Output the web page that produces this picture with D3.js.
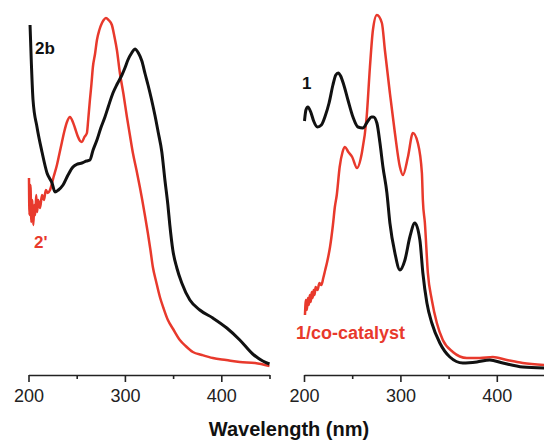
<!DOCTYPE html>
<html>
<head>
<meta charset="utf-8">
<title>UV-vis spectra</title>
<script src="https://d3js.org/d3.v7.min.js"></script>
<style>
body { margin: 0; background: #fff; }
svg { display: block; font-family: "Liberation Sans", Arial, sans-serif; }
</style>
</head>
<body>
<script type="text/javascript">

// wavelength (nm) and absorbance (arb. units)
var wl2b = [201.6, 203, 204.7, 208.8, 214, 219.2, 224.4, 227.5, 231, 235.8, 241, 246.1, 251, 255.4, 260, 263.7, 267, 271, 275, 279.3, 283, 287.6, 292, 296.9, 300, 303.1, 307, 310.4, 314, 317.6, 321, 324, 327.5, 331.1, 334.5, 338.3, 341.5, 344.6, 346.6, 349.7, 353.9, 359, 367.4, 377.7, 391.2, 405.7, 419.2, 432.6, 443, 450];
var abs2b = [3.49, 3.10, 2.74, 2.47, 2.22, 2.01, 1.91, 1.82, 1.84, 1.89, 1.99, 2.07, 2.10, 2.11, 2.13, 2.14, 2.24, 2.34, 2.46, 2.57, 2.68, 2.81, 2.90, 2.99, 3.06, 3.14, 3.21, 3.25, 3.21, 3.13, 3.00, 2.89, 2.75, 2.59, 2.42, 2.22, 1.94, 1.69, 1.49, 1.24, 1.06, 0.91, 0.74, 0.64, 0.56, 0.46, 0.34, 0.20, 0.13, 0.10];

var wl2p = [200.5, 201, 202, 203, 204, 205, 206, 207, 208, 209, 210, 212, 214, 216, 218, 220, 222.3, 226, 229.5, 232, 234.7, 237, 239.9, 243, 246, 248.2, 251, 253.5, 255.4, 258, 260.6, 262, 263.7, 265.3, 266.8, 269, 271, 273.5, 276.2, 278, 280.3, 283, 286.5, 289, 291.7, 294.8, 298.5, 302.1, 305, 308.3, 312, 315.5, 318, 320.7, 323.8, 326.5, 329, 332.5, 336.3, 340, 344.6, 350, 357, 363, 370.5, 380, 391.2, 405, 419.2, 435, 450];
var abs2p = [1.96, 1.59, 1.89, 1.52, 1.74, 1.49, 1.69, 1.59, 1.79, 1.62, 1.74, 1.66, 1.79, 1.74, 1.84, 1.81, 1.84, 1.97, 2.09, 2.20, 2.32, 2.42, 2.52, 2.57, 2.52, 2.46, 2.38, 2.33, 2.32, 2.37, 2.41, 2.55, 2.74, 2.90, 3.07, 3.20, 3.34, 3.44, 3.51, 3.54, 3.56, 3.54, 3.49, 3.38, 3.24, 3.01, 2.80, 2.57, 2.40, 2.21, 2.04, 1.87, 1.74, 1.59, 1.41, 1.24, 1.07, 0.92, 0.77, 0.66, 0.54, 0.45, 0.34, 0.28, 0.22, 0.19, 0.16, 0.14, 0.12, 0.11, 0.08];

var wl1 = [200.5, 202, 204, 207, 210, 214, 218, 222, 226, 230, 233, 235.5, 238, 241, 245.6, 250.8, 256, 261, 266.3, 270, 272, 275.6, 278.8, 281.9, 286, 289.1, 294.3, 299.5, 304.7, 309.8, 315, 320.2, 323.3, 327.5, 332.6, 340.9, 351.3, 364.8, 379.3, 392.7, 406.2, 426.9, 450];
var abs1 = [2.53, 2.64, 2.67, 2.62, 2.53, 2.47, 2.49, 2.58, 2.71, 2.89, 2.99, 3.01, 2.98, 2.90, 2.74, 2.57, 2.47, 2.46, 2.53, 2.57, 2.57, 2.51, 2.31, 2.07, 1.81, 1.51, 1.21, 1.04, 1.14, 1.37, 1.51, 1.34, 1.01, 0.71, 0.51, 0.31, 0.17, 0.11, 0.12, 0.14, 0.11, 0.07, 0.06];

var wlCo = [201, 202, 203, 204, 205, 206, 207, 208, 209, 210, 211, 212, 214, 216, 218, 220, 222, 224, 227, 230, 232, 234, 237, 240, 242.5, 246, 250, 255, 260, 265, 268.4, 271.5, 275.6, 280.8, 283.9, 289.1, 294.3, 299.5, 302.6, 307.8, 313, 318.1, 322.3, 323.3, 325.4, 328.5, 332.6, 337.8, 344, 354.4, 368.9, 382.4, 395.9, 410.4, 426.9, 450];
var absCo = [0.59, 0.74, 0.64, 0.76, 0.69, 0.79, 0.72, 0.82, 0.76, 0.84, 0.79, 0.87, 0.84, 0.91, 0.89, 0.96, 1.04, 1.12, 1.27, 1.49, 1.67, 1.79, 2.07, 2.22, 2.27, 2.22, 2.17, 2.06, 2.21, 2.57, 3.07, 3.44, 3.59, 3.51, 3.24, 2.81, 2.41, 2.07, 1.99, 2.17, 2.41, 2.31, 2.01, 1.74, 1.51, 1.01, 0.74, 0.51, 0.34, 0.22, 0.16, 0.16, 0.17, 0.14, 0.11, 0.09];

var majorTicks = [200, 300, 400];
var minorTicks = [250, 350, 450];

var width = 544, height = 441,
    axisY = 375,
    red = "#e8392c", black = "#111";

var svg = d3.select("body").append("svg")
    .attr("width", width)
    .attr("height", height);

var y = d3.scaleLinear().domain([0, 3.6]).range([374, 14]);
var xL = d3.scaleLinear().domain([200, 450]).range([28.5, 269.5]);
var xR = d3.scaleLinear().domain([200, 450]).range([304, 545]);

function zip(a, b) { return a.map(function(d, i) { return [d, b[i]]; }); }

function drawAxis(x) {
    var g = svg.append("g").attr("transform", "translate(0," + axisY + ")");
    g.call(d3.axisBottom(x).tickValues(majorTicks).tickSize(7).tickSizeOuter(0).tickPadding(7).tickFormat(d3.format("d")));
    var m = svg.append("g").attr("transform", "translate(0," + axisY + ")");
    m.call(d3.axisBottom(x).tickValues(minorTicks).tickSize(4).tickSizeOuter(0).tickFormat(""));
    m.select(".domain").remove();
    svg.selectAll("g .domain, g .tick line").attr("stroke", "#222").attr("stroke-width", 1.6);
    g.selectAll("text").attr("font-size", 18).attr("fill", "#222")
        .attr("font-family", "'Liberation Sans', Arial, sans-serif");
}

function drawLine(x, wl, ab, color, w) {
    var line = d3.line()
        .x(function(d) { return x(d[0]); })
        .y(function(d) { return y(d[1]); })
        .curve(d3.curveMonotoneX);
    svg.append("path")
        .datum(zip(wl, ab))
        .attr("fill", "none")
        .attr("stroke", color)
        .attr("stroke-width", w)
        .attr("stroke-linejoin", "round")
        .attr("d", line);
}

drawAxis(xL);
drawAxis(xR);

// left panel
drawLine(xL, wl2p, abs2p, red, 2.5);
drawLine(xL, wl2b, abs2b, black, 3);
// right panel
drawLine(xR, wlCo, absCo, red, 2.5);
drawLine(xR, wl1, abs1, black, 3);

function label(x, yy, txt, color, size) {
    svg.append("text")
        .attr("x", x).attr("y", yy)
        .attr("fill", color)
        .attr("font-size", size)
        .attr("font-weight", "bold")
        .text(txt);
}
label(35, 54, "2b", black, 17);
label(34, 248, "2'", red, 17);
label(302, 89, "1", black, 17);
label(296, 339, "1/co-catalyst", red, 18);

svg.append("text")
    .attr("x", 289).attr("y", 436)
    .attr("text-anchor", "middle")
    .attr("font-size", 20)
    .attr("font-weight", "bold")
    .attr("fill", "#111")
    .text("Wavelength (nm)");

</script>
</body>
</html>
